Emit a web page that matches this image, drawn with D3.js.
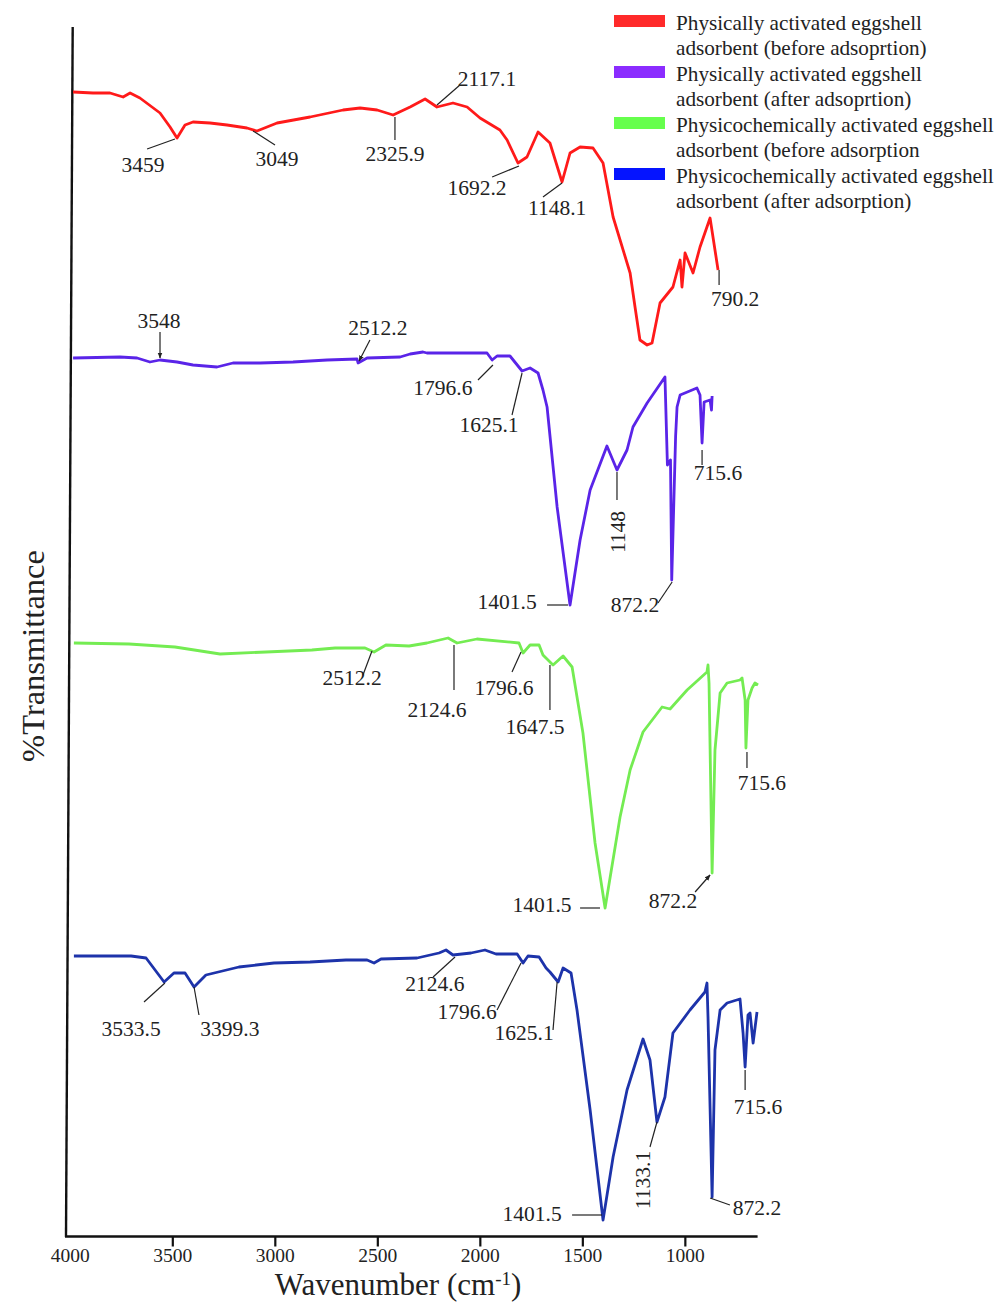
<!DOCTYPE html>
<html>
<head>
<meta charset="utf-8">
<script src="https://cdn.jsdelivr.net/npm/d3@7"></script>
<style>
  body { margin: 0; background: #fff; }
  text { font-family: "Liberation Serif", "Times New Roman", serif; fill: #222; }
</style>
</head>
<body>
<div id="chart"></div>
<script>
// x tick values (cm-1)
const xTickValues = [4000, 3500, 3000, 2500, 2000, 1500, 1000];

// legend entries, two lines each
const legendLabels = [
    ["Physically activated eggshell", "adsorbent (before adsoprtion)"],
    ["Physically activated eggshell", "adsorbent (after adsoprtion)"],
    ["Physicochemically activated eggshell", "adsorbent (before adsorption"],
    ["Physicochemically activated eggshell", "adsorbent (after adsorption)"]
];

// spectra: [wavenumber, stacked %T]
const physBefore = [
    [3984,114.4],[3887,114.3],[3804,114.3],[3740,113.9],[3706,114.3],[3658,113.8],[3560,112.3],
    [3511,110.9],[3477,109.8],[3438,111.1],[3399,111.4],[3316,111.3],[3233,111.1],[3136,110.8],
    [3087,110.5],[2989,111.3],[2828,111.9],[2667,112.6],[2584,112.8],[2501,112.6],[2423,112.1],
    [2340,112.9],[2267,113.7],[2209,112.9],[2131,113.3],[2062,112.9],[1999,111.8],[1902,110.6],
    [1867,109.6],[1814,107.3],[1770,107.9],[1716,110.4],[1658,109.3],[1599,105.4],[1560,108.3],
    [1511,108.9],[1448,108.8],[1399,107.3],[1350,101.9],[1267,96.3],[1243,92.9],[1219,89.6],
    [1184,89.1],[1160,89.3],[1121,93.3],[1058,94.9],[1023,97.6],[1014,94.9],[999,98.3],
    [960,96.3],[926,98.9],[877,101.8],[838,96.6]
];
const physAfter = [
    [3984,87.8],[3755,87.9],[3672,87.8],[3609,87.4],[3560,87.6],[3477,87.4],[3399,87.1],
    [3282,86.9],[3204,87.3],[3072,87.3],[2911,87.4],[2745,87.6],[2599,87.7],[2594,87.3],
    [2550,87.8],[2389,87.9],[2340,88.2],[2277,88.4],[2258,88.3],[1965,88.3],[1940,87.6],
    [1916,88.0],[1853,88.0],[1794,86.5],[1755,86.8],[1716,86.3],[1692,84.6],[1672,82.9],
    [1623,72.9],[1560,63.1],[1511,69.6],[1462,74.6],[1380,79.0],[1331,76.6],[1282,78.6],
    [1253,80.9],[1184,83.3],[1097,85.9],[1085,77.1],[1070,77.6],[1064,65.6],[1045,80.0],
    [1038,82.9],[1023,84.1],[941,84.8],[926,84.1],[916,79.3],[906,83.4],[877,83.6],
    [870,82.6],[867,84.0]
];
const chemBefore = [
    [3980,59.3],[3711,59.2],[3487,58.9],[3267,58.2],[3043,58.4],[2819,58.6],[2706,58.8],
    [2560,58.8],[2516,58.4],[2458,59.1],[2345,59.0],[2258,59.3],[2155,59.8],[2111,59.3],
    [2014,59.7],[1809,59.3],[1789,58.3],[1755,59.1],[1711,59.1],[1692,58.1],[1643,57.1],
    [1594,58.0],[1550,56.9],[1497,50.3],[1438,39.3],[1389,32.8],[1316,41.9],[1267,46.6],
    [1204,50.4],[1111,52.9],[1072,52.7],[989,54.6],[892,56.4],[887,57.1],[882,55.3],
    [867,36.3],[853,48.6],[828,54.3],[794,55.3],[731,55.6],[721,55.8],[706,53.6],
    [702,48.8],[692,53.6],[672,54.8],[658,55.3],[643,55.1]
];
const chemAfter = [
    [3980,28.0],[3701,28.0],[3628,27.8],[3540,25.4],[3492,26.3],[3438,26.3],[3394,24.9],
    [3336,26.1],[3175,26.9],[3004,27.3],[2828,27.4],[2653,27.6],[2550,27.6],[2516,27.3],
    [2482,27.7],[2306,27.8],[2199,28.3],[2165,28.6],[2131,28.1],[2043,28.3],[1975,28.6],
    [1921,28.2],[1818,28.2],[1789,27.3],[1765,28.0],[1711,27.9],[1677,26.8],[1658,26.4],
    [1618,25.4],[1594,26.8],[1555,26.3],[1526,22.6],[1462,12.6],[1399,1.6],[1350,7.9],
    [1282,14.6],[1204,19.7],[1170,17.6],[1136,11.4],[1097,13.9],[1058,20.3],[975,22.6],
    [902,24.4],[892,25.3],[887,21.9],[867,3.9],[853,18.6],[828,22.6],[794,23.3],
    [731,23.7],[716,20.3],[706,16.9],[692,22.1],[682,22.3],[667,19.3],[648,22.4]
];

// peak labels: text anchor (w,u) and leader line [w1,u1,w2,u2]
const annPhysBefore = [
    {label: "3459", w: 3643, u: 106.4, line: [3623,108.7,3487,109.7]},
    {label: "3049", w: 2989, u: 107.0, line: [3106,110.5,2999,109.1]},
    {label: "2325.9", w: 2414, u: 107.5, line: [2414,111.9,2414,109.6]},
    {label: "2117.1", w: 1965, u: 115.0, line: [2209,113.1,2097,115.1]},
    {label: "1692.2", w: 2014, u: 104.1, line: [1940,105.9,1809,107.0]},
    {label: "1148.1", w: 1623, u: 102.1, line: [1692,103.9,1599,105.3]},
    {label: "790.2", w: 755, u: 93.0, line: [833,96.6,833,95.1]}
];
const annPhysAfter = [
    {label: "3548", w: 3565, u: 90.8, line: [3560,90.4,3560,87.8], arrow: true},
    {label: "2512.2", w: 2497, u: 90.1, line: [2536,89.6,2589,87.5], arrow: true},
    {label: "1796.6", w: 2180, u: 84.1, line: [2009,85.6,1936,87.1]},
    {label: "1625.1", w: 1955, u: 80.4, line: [1843,82.1,1794,86.3]},
    {label: "1401.5", w: 1867, u: 62.7, line: [1672,63.1,1570,63.1]},
    {label: "1148", w: 1326, u: 70.4, line: [1331,76.4,1331,73.6], rotate: true},
    {label: "872.2", w: 1243, u: 62.4, line: [1131,63.3,1062,65.4]},
    {label: "715.6", w: 838, u: 75.6, line: [916,78.6,916,77.1]}
];
const annChemBefore = [
    {label: "2512.2", w: 2623, u: 55.1, line: [2570,56.1,2526,58.5]},
    {label: "2124.6", w: 2209, u: 51.9, line: [2126,59.1,2126,54.6]},
    {label: "1796.6", w: 1882, u: 54.1, line: [1843,56.4,1799,58.4]},
    {label: "1647.5", w: 1731, u: 50.2, line: [1658,57.1,1658,52.6]},
    {label: "1401.5", w: 1697, u: 32.4, line: [1511,32.8,1414,32.8]},
    {label: "872.2", w: 1058, u: 32.8, line: [950,34.4,877,36.1], arrow: true},
    {label: "715.6", w: 624, u: 44.6, line: [697,48.4,697,46.8]}
];
const annChemAfter = [
    {label: "3533.5", w: 3701, u: 20.0, line: [3638,23.4,3536,25.3]},
    {label: "3399.3", w: 3219, u: 20.0, line: [3394,24.9,3370,22.1]},
    {label: "2124.6", w: 2219, u: 24.5, line: [2228,25.9,2121,27.9]},
    {label: "1796.6", w: 2062, u: 21.7, line: [1916,22.6,1799,27.3]},
    {label: "1625.1", w: 1784, u: 19.6, line: [1643,20.6,1623,25.4]},
    {label: "1401.5", w: 1745, u: 1.5, line: [1550,2.1,1404,2.1]},
    {label: "1133.1", w: 1204, u: 5.6, line: [1170,8.9,1136,11.4], rotate: true},
    {label: "872.2", w: 648, u: 2.1, line: [877,3.8,780,3.1]},
    {label: "715.6", w: 643, u: 12.2, line: [706,16.6,706,14.6]}
];

const lineColors = ["#ff1a1a", "#5a24e8", "#74ec52", "#1d33aa"];
const swatchColors = ["#ff2a2a", "#8b2cff", "#66ff4d", "#0514ff"];

const width = 997, height = 1302;

const svg = d3.select('#chart')
    .append('svg')
    .attr('width', width)
    .attr('height', height);

const x = d3.scaleLinear().domain([4000, 650]).range([69.8, 756.6]);
const y = d3.scaleLinear().domain([0, 120]).range([1236, 36]);

svg.append('defs').append('marker')
    .attr('id', 'arrow')
    .attr('viewBox', '0 0 10 10')
    .attr('refX', 9).attr('refY', 5)
    .attr('markerWidth', 5).attr('markerHeight', 5)
    .attr('orient', 'auto')
    .append('path')
    .attr('d', 'M0,1L10,5L0,9Z')
    .attr('fill', '#222');

// x axis
const xAxis = svg.append('g')
    .attr('transform', 'translate(0,1236.5)')
    .call(d3.axisBottom(x).tickValues(xTickValues).tickSize(10).tickPadding(2).tickFormat(d3.format('d')));
xAxis.select('.domain').remove();
xAxis.selectAll('.tick line').attr('stroke', '#111').attr('stroke-width', 2.2)
    .filter(d => d === 4000).remove();
xAxis.selectAll('.tick text')
    .style('font-family', '"Liberation Serif", "Times New Roman", serif')
    .style('font-size', '19.5px').attr('fill', '#222');
svg.append('line')
    .attr('x1', 65).attr('x2', x(650) + 1)
    .attr('y1', 1236.5).attr('y2', 1236.5)
    .attr('stroke', '#111').attr('stroke-width', 2.4);

// y axis (slightly tilted in the original)
svg.append('line')
    .attr('x1', 72.7).attr('y1', 27)
    .attr('x2', 66).attr('y2', 1237)
    .attr('stroke', '#111').attr('stroke-width', 2.4);

// axis titles
const xTitle = svg.append('text')
    .attr('x', 398).attr('y', 1295)
    .attr('text-anchor', 'middle')
    .style('font-size', '31px');
xTitle.append('tspan').text('Wavenumber (cm');
xTitle.append('tspan').attr('baseline-shift', 'super').style('font-size', '19px').text('-1');
xTitle.append('tspan').text(')');

svg.append('text')
    .attr('transform', 'translate(44,656) rotate(-90)')
    .attr('text-anchor', 'middle')
    .style('font-size', '32.5px')
    .text('%Transmittance');

// spectra
const line = d3.line().x(d => x(d[0])).y(d => y(d[1])).curve(d3.curveLinear);
const spectra = [physBefore, physAfter, chemBefore, chemAfter];

spectra.forEach((s, i) => {
    svg.append('path')
        .datum(s)
        .attr('d', line)
        .attr('fill', 'none')
        .attr('stroke', lineColors[i])
        .attr('stroke-width', 2.8)
        .attr('stroke-linejoin', 'round');
});

// peak labels
const annotations = [annPhysBefore, annPhysAfter, annChemBefore, annChemAfter];
annotations.forEach(list => {
    list.forEach(a => {
        const l = svg.append('line')
            .attr('x1', x(a.line[0])).attr('y1', y(a.line[1]))
            .attr('x2', x(a.line[2])).attr('y2', y(a.line[3]))
            .attr('stroke', '#222').attr('stroke-width', 1.2);
        if (a.arrow) l.attr('marker-end', 'url(#arrow)');

        const t = svg.append('text')
            .attr('text-anchor', 'middle')
            .style('font-size', '21.5px')
            .text(a.label);
        if (a.rotate) {
            t.attr('dominant-baseline', 'central')
                .attr('transform', 'translate(' + x(a.w) + ',' + y(a.u) + ') rotate(-90)');
        } else {
            t.attr('x', x(a.w)).attr('y', y(a.u));
        }
    });
});

// legend
const legend = svg.append('g').attr('transform', 'translate(614,15)');
legendLabels.forEach((lab, i) => {
    const g = legend.append('g').attr('transform', 'translate(0,' + (i * 51) + ')');
    g.append('rect')
        .attr('width', 51).attr('height', 12)
        .attr('fill', swatchColors[i]);
    lab.forEach((txt, j) => {
        g.append('text')
            .attr('x', 62).attr('y', 14.5 + j * 25.3)
            .style('font-size', '21.2px')
            .text(txt);
    });
});
</script>
</body>
</html>
